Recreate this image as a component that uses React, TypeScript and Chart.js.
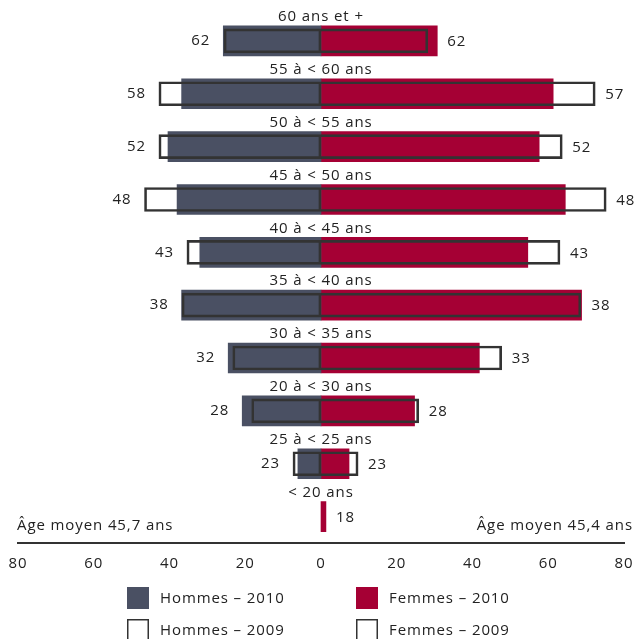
import { useEffect, useRef } from "react";
import { Chart, registerables } from "chart.js";
Chart.register(...registerables);

const categories = [
  "60 ans et +",
  "55 à < 60 ans",
  "50 à < 55 ans",
  "45 à < 50 ans",
  "40 à < 45 ans",
  "35 à < 40 ans",
  "30 à < 35 ans",
  "20 à < 30 ans",
  "25 à < 25 ans",
  "< 20 ans",
];
const hommes2010 = [25.8, 36.8, 40.4, 38.0, 32.0, 36.8, 24.5, 20.8, 6.1, null];
const hommes2009 = [25.6, 42.8, 42.8, 46.6, 35.4, 36.7, 23.3, 18.3, 7.4, null];
const femmes2010 = [30.7, 61.3, 57.6, 64.5, 54.6, 68.8, 41.8, 24.7, 7.4, 1.3];
const femmes2009 = [28.2, 72.4, 63.7, 75.3, 63.1, 68.6, 47.7, 25.8, 9.8, null];
const leftLabels = ["62", "58", "52", "48", "43", "38", "32", "28", "23", ""];
const rightLabels = ["62", "57", "52", "48", "43", "38", "33", "28", "23", "18"];
const ageMoyenHommes = "Âge moyen 45,7 ans";
const ageMoyenFemmes = "Âge moyen 45,4 ans";
const xTicks = [-80, -60, -40, -20, 0, 20, 40, 60, 80];
const legendLabels = ["Hommes – 2010", "Femmes – 2010", "Hommes – 2009", "Femmes – 2009"];

const DARK = "#4a5063";
const RED = "#a50034";
const INK = "#222222";
const LINE = "#333333";
const FONT = "'Open Sans', sans-serif";

export default function App() {
  const ref = useRef<HTMLCanvasElement>(null);
  useEffect(() => {
    if (!ref.current) return;
    const spacing = {
      id: "spacing",
      beforeDraw(chart: any) {
        (chart.ctx as any).letterSpacing = "0.9px";
      },
    };
    const overlay = {
      id: "overlay",
      afterDraw(chart: any) {
        const ctx = chart.ctx as CanvasRenderingContext2D;
        const xs = chart.scales.x;
        const ys = chart.scales.y;
        const x0 = xs.getPixelForValue(0);
        ctx.save();
        (ctx as any).letterSpacing = "0.9px";
        ctx.font = `15px ${FONT}`;
        ctx.fillStyle = INK;
        ctx.textBaseline = "middle";
        categories.forEach((c, i) => {
          const yc = ys.getPixelForValue(i);
          ctx.textAlign = "center";
          ctx.fillText(c, x0, yc - 24);
          const lv = [hommes2010[i], hommes2009[i]].filter((v) => v != null) as number[];
          if (leftLabels[i] && lv.length) {
            const xl = xs.getPixelForValue(-Math.max(...lv));
            ctx.textAlign = "right";
            ctx.fillText(leftLabels[i], xl - 13, yc);
          }
          const rv = [femmes2010[i], femmes2009[i]].filter((v) => v != null) as number[];
          if (rightLabels[i] && rv.length) {
            const xr = xs.getPixelForValue(Math.max(...rv));
            ctx.textAlign = "left";
            ctx.fillText(rightLabels[i], xr + 10, yc + 1);
          }
        });
        // average ages
        const yAvg = chart.chartArea.bottom - 17;
        ctx.textAlign = "left";
        ctx.fillText(ageMoyenHommes, 17, yAvg);
        ctx.textAlign = "right";
        ctx.fillText(ageMoyenFemmes, 633, yAvg);
        // legend
        const cols = [127, 356];
        const rows = [598, 630];
        legendLabels.forEach((lab, k) => {
          const cx = cols[k % 2];
          const cy = rows[Math.floor(k / 2)];
          if (k < 2) {
            ctx.fillStyle = k === 0 ? DARK : RED;
            ctx.fillRect(cx, cy - 11, 22, 22);
          } else {
            ctx.fillStyle = "#ffffff";
            ctx.fillRect(cx, cy - 11, 22, 22);
            ctx.strokeStyle = LINE;
            ctx.lineWidth = 1.5;
            ctx.strokeRect(cx + 0.75, cy - 10.25, 20.5, 20.5);
          }
          ctx.fillStyle = INK;
          ctx.textAlign = "left";
          ctx.fillText(lab, cx + 33, cy + 1);
        });
        ctx.restore();
        (ctx as any).letterSpacing = "0px";
      },
    };
    const neg = (a: (number | null)[]) => a.map((v) => (v == null ? null : -v));
    const chart = new Chart(ref.current, {
      type: "bar",
      data: {
        labels: categories,
        datasets: [
          {
            label: "Hommes – 2009",
            data: neg(hommes2009),
            backgroundColor: "rgba(255,255,255,0)",
            borderColor: LINE,
            borderWidth: 2,
            borderSkipped: false,
            barThickness: 24,
            grouped: false,
            order: 0,
          },
          {
            label: "Femmes – 2009",
            data: femmes2009,
            backgroundColor: "rgba(255,255,255,0)",
            borderColor: LINE,
            borderWidth: 2,
            borderSkipped: "start",
            barThickness: 24,
            grouped: false,
            order: 0,
          },
          {
            label: "Hommes – 2010",
            data: neg(hommes2010),
            backgroundColor: DARK,
            borderWidth: 0,
            barThickness: 30,
            grouped: false,
            order: 1,
          },
          {
            label: "Femmes – 2010",
            data: femmes2010,
            backgroundColor: RED,
            borderWidth: 0,
            barThickness: 30,
            grouped: false,
            order: 1,
          },
        ] as any,
      },
      options: {
        indexAxis: "y",
        responsive: false,
        animation: false,
        layout: { padding: { left: 18, right: 12, top: 14.5, bottom: 54 } },
        plugins: { legend: { display: false }, tooltip: { enabled: false } },
        scales: {
          x: {
            min: -80,
            max: 80,
            afterBuildTicks: (axis: any) => {
              axis.ticks = xTicks.map((v) => ({ value: v }));
            },
            afterFit: (scale: any) => {
              scale.paddingLeft = 0;
              scale.paddingRight = 0;
            },
            ticks: {
              callback: (v: any) => String(Math.abs(Number(v))),
              font: { family: FONT, size: 15 },
              color: INK,
              padding: 12,
              maxRotation: 0,
              autoSkip: false,
            },
            grid: { display: false, drawTicks: false },
            border: { display: true, color: LINE, width: 2 },
          },
          y: { display: false },
        },
      } as any,
      plugins: [spacing, overlay],
    });
    return () => chart.destroy();
  }, []);
  return (
    <div style={{ position: "absolute", left: 0, top: 0, width: 636, height: 639 }}>
      <canvas ref={ref} width={636} height={639} style={{ display: "block" }} />
    </div>
  );
}
